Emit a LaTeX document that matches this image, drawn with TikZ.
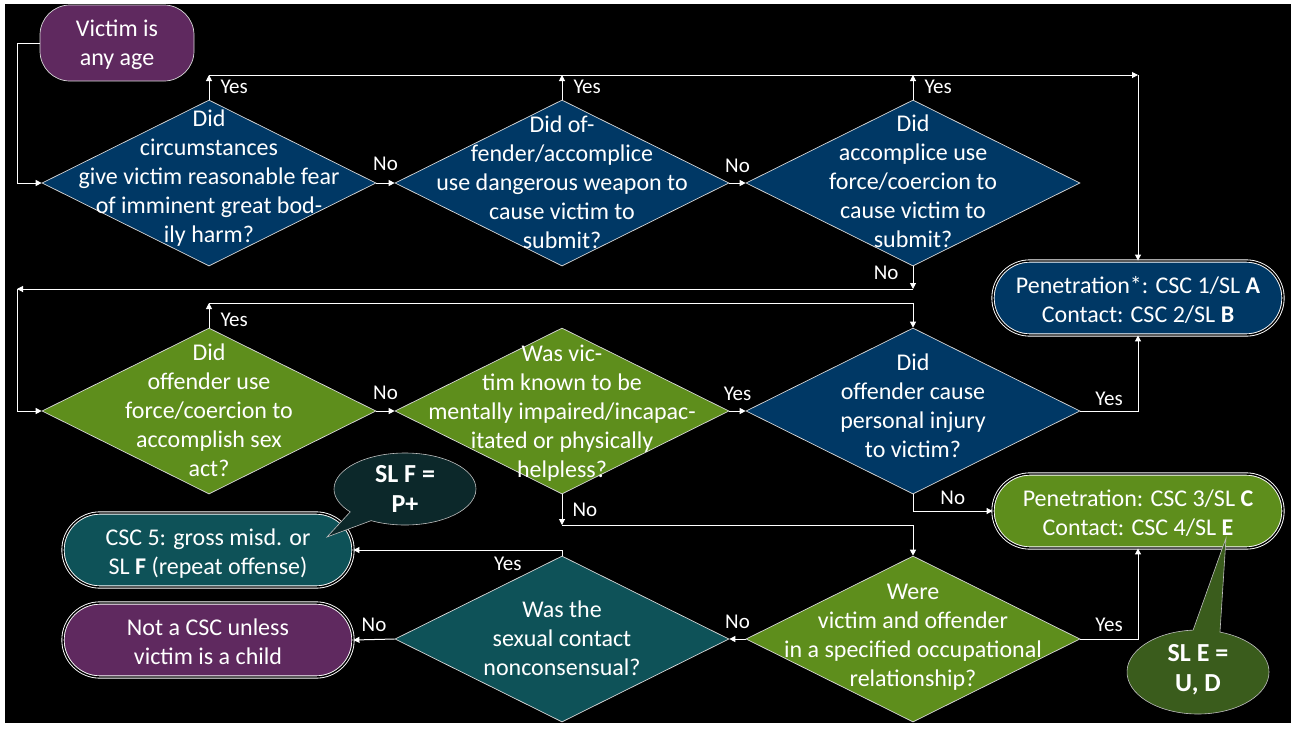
\documentclass[tikz,border=0pt]{standalone}
\usepackage{fontspec}
\setmainfont{Carlito}
\usetikzlibrary{shapes.geometric, shapes.misc, shapes.callouts}
\usetikzlibrary{arrows.meta, positioning, calc}

\definecolor{qblue}{RGB}{0,56,101}
\definecolor{qgreen}{RGB}{94,142,28}
\definecolor{qteal}{RGB}{14,82,88}
\definecolor{qpurple}{RGB}{95,41,95}
\definecolor{noteteal}{RGB}{12,40,42}
\definecolor{notegreen}{RGB}{58,92,28}

% centred multi-line text that does not change the size of its node
\newcommand{\mtext}[2][10pt]{\makebox[0pt]{\smash{\raisebox{-#1}{\begin{tabular}{@{}c@{}}#2\end{tabular}}}}}

\begin{document}
\begin{tikzpicture}[x=1pt, y=-1pt,
        every node/.style={text=white, inner sep=0pt, font=\fontsize{24}{29}\selectfont},
        quest/.style={diamond, draw=white!85!black, line width=0.7pt, minimum width=334pt, minimum height=166pt},
        result/.style={rounded rectangle, draw=white, line width=0.9pt, double=black, double distance=1.4pt, minimum width=290pt, minimum height=74pt},
        startbox/.style={rectangle, rounded corners=30pt, draw=white!85!black, line width=0.7pt, fill=qpurple, minimum width=154pt, minimum height=76pt},
        note/.style={ellipse callout, callout pointer arc=22, draw=white!75!black, line width=0.6pt, font=\fontsize{26}{30}\selectfont\bfseries},
        yn/.style={font=\fontsize{21}{25}\selectfont},
        arr/.style={draw=white, line width=1pt, -{Triangle[length=6pt, width=6pt]}}]

        \useasboundingbox (0,0) rectangle (1291,729);
        \fill[white] (0,0) rectangle (1291,729);
        \fill[black] (5,4) rectangle (1291,723);

        \node[startbox] (age) at (117,43) {\mtext[8pt]{Victim is\\any age}};

        \node[quest, fill=qblue] (fear) at (209,183)
            {\mtext[2pt]{Did\\circumstances\\give victim reasonable fear\\of imminent great bod-\\ily harm?}};
        \node[quest, fill=qblue] (weapon) at (562,183)
            {\mtext[8pt]{Did of-\\fender/accomplice\\use dangerous weapon to\\cause victim to\\submit?}};
        \node[quest, fill=qblue] (accomp) at (913,183)
            {\mtext[7pt]{Did\\accomplice use\\force/coercion to\\cause victim to\\submit?}};

        \node[quest, fill=qgreen] (force) at (209,411)
            {\mtext[8pt]{Did\\offender use\\force/coercion to\\accomplish sex\\act?}};
        \node[quest, fill=qgreen] (impair) at (562,411)
            {\mtext[9pt]{Was vic-\\tim known to be\\mentally impaired/incapac-\\itated or physically\\helpless?}};
        \node[quest, fill=qblue] (injury) at (913,411)
            {\mtext[3pt]{Did\\offender cause\\personal injury\\to victim?}};

        \node[quest, fill=qgreen] (occup) at (913,639)
            {\mtext[4pt]{Were\\victim and offender\\in a specified occupational\\relationship?}};
        \node[quest, fill=qteal] (consent) at (562,639)
            {\mtext[8pt]{Was the\\sexual contact\\nonconsensual?}};

        \node[result, fill=qblue] (csc12) at (1138,298)
            {\mtext{Penetration*: CSC 1/SL \textbf{A}\\Contact: CSC 2/SL \textbf{B}}};
        \node[result, fill=qgreen] (csc34) at (1138,511)
            {\mtext{Penetration: CSC 3/SL \textbf{C}\\Contact: CSC 4/SL \textbf{E}}};
        \node[result, fill=qteal] (csc5) at (208,550)
            {\mtext{CSC 5: gross misd. or\\SL \textbf{F} (repeat offense)}};
        \node[result, fill=qpurple] (notcsc) at (208,640)
            {\mtext{Not a CSC unless\\victim is a child}};

        \coordinate (ytop) at (209,75);
        \coordinate (ycorner) at (1138,75);
        \coordinate (nbus) at (17,289);
        \coordinate (ybus) at (209,303);
        \coordinate (nbus2) at (562,525);

        \draw[arr] (age.west) -- (age.west -| nbus) |- (fear.west);

        \draw[arr] (fear.north) -- (fear.north |- ytop) node[yn, midway, right=11pt] {Yes};
        \draw[arr] (weapon.north) -- (weapon.north |- ytop) node[yn, midway, right=11pt] {Yes};
        \draw[arr] (accomp.north) -- (accomp.north |- ytop) node[yn, midway, right=11pt] {Yes};
        \draw[arr] (ytop) -- (ycorner);
        \draw[arr] (ycorner) -- (csc12.north);

        \draw[arr] (fear.east) -- (weapon.west) node[yn, midway, above=12pt] {No};
        \draw[arr] (weapon.east) -- (accomp.west) node[yn, midway, above=10pt] {No};
        \draw[arr] (accomp.south) -- (accomp.south |- nbus) node[yn, pos=0.3, left=14pt] {No};
        \draw[arr] (accomp.south |- nbus) -- (nbus);
        \draw[arr] (nbus) |- (force.west);

        \draw[arr] (force.north) -- (ybus) node[yn, pos=0.3, right=11pt] {Yes};
        \draw[arr] (ybus) -| (injury.north);
        \draw[arr] (force.east) -- (impair.west) node[yn, midway, above=11pt] {No};
        \draw[arr] (impair.east) -- (injury.west) node[yn, midway, above=10pt] {Yes};
        \draw[arr] (injury.east) -| (csc12.south) node[yn, pos=0.25, above=5pt] {Yes};
        \draw[arr] (injury.south) |- (csc34.west) node[yn, pos=0.75, above=6pt] {No};

        \draw[arr] (impair.south) -- (nbus2) node[yn, midway, right=10pt] {No};
        \draw[arr] (nbus2) -| (occup.north);
        \draw[arr] (occup.east) -| (csc34.south) node[yn, pos=0.25, above=7pt] {Yes};
        \draw[arr] (occup.west) -- (consent.east) node[yn, midway, above=10pt] {No};
        \draw[arr] (consent.north) |- (csc5.east) node[yn, pos=0.63, below=7pt] {Yes};
        \draw[arr] (consent.west) -- (notcsc.east) node[yn, midway, above=7pt] {No};

        \node[note, fill=noteteal, minimum width=142pt, minimum height=72pt,
            callout absolute pointer={($(csc5.center)+(119,-13)$)}] (slf) at (405,489)
            {\mtext[9pt]{SL F =\\P+}};
        \node[note, fill=notegreen, minimum width=142pt, minimum height=84pt,
            callout absolute pointer={($(csc34.center)+(88,27)$)}] (sle) at (1198,672)
            {\mtext[5pt]{SL E =\\U, D}};
\end{tikzpicture}
\end{document}
